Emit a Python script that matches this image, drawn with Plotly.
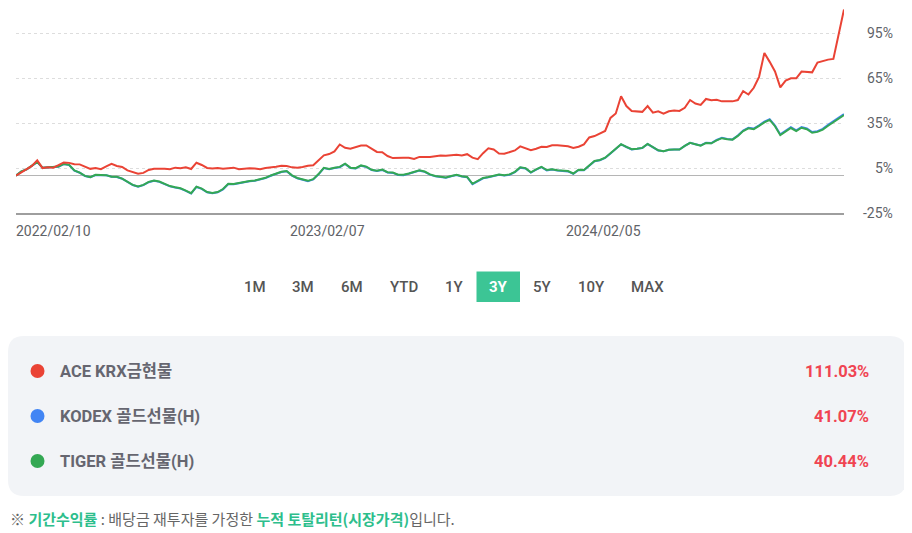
import pandas as pd
import plotly.graph_objects as go

# ---- data (weekly, cumulative total return %) ----
start_date = "2022-02-10"

ace_krx = [
    0, 2.0, 4.0, 6.5, 10.2, 5.0, 5.5, 5.3, 7.0, 8.8,
    8.5, 7.6, 7.5, 5.8, 4.5, 5.0, 4.3, 6.2, 7.8, 6.4,
    5.8, 3.5, 2.2, 1.2, 1.8, 3.8, 4.6, 4.7, 4.6, 4.2,
    5.3, 4.9, 5.6, 4.4, 8.6, 7.1, 5.1, 4.7, 5.1, 4.6,
    5.0, 5.3, 4.3, 4.8, 4.9, 4.7, 4.2, 5.1, 5.4, 5.9,
    6.6, 6.4, 5.5, 5.3, 5.7, 6.6, 6.9, 9.9, 13.5, 14.4,
    16.2, 20.8, 18.6, 18.0, 19.2, 20.1, 20.1, 17.7, 15.8, 15.6,
    13.1, 11.7, 12.0, 12.0, 11.9, 11.1, 12.5, 12.2, 12.4, 12.9,
    13.4, 13.3, 13.5, 14.0, 13.5, 14.3, 12.0, 11.0, 15.0, 18.2,
    17.4, 14.8, 14.6, 15.8, 16.8, 19.5, 18.0, 17.0, 17.9, 19.2,
    19.1, 20.3, 20.2, 20.0, 19.6, 18.4, 19.3, 20.9, 25.5, 26.4,
    28.0, 29.8, 38.5, 41.5, 53.0, 46.5, 43.2, 43.0, 42.6, 46.5,
    42.0, 42.9, 41.4, 43.0, 43.5, 43.2, 45.3, 50.5, 48.2, 47.2,
    51.2, 50.3, 50.7, 49.6, 49.6, 49.6, 50.5, 56.5, 54.2, 58.7,
    66.0, 82.0, 76.0, 69.6, 59.0, 63.5, 65.0, 65.0, 69.5, 69.5,
    69.0, 75.5, 76.6, 77.5, 78.0, 95.0, 111.03,
]

kodex_gold = [
    0, 2.7, 4.1, 6.4, 9.0, 5.2, 5.4, 5.4, 5.9, 7.7,
    7.1, 3.3, 1.9, -0.3, -1.1, 0.4, 0.4, 0.2, -0.8, -0.9,
    -2.1, -4.0, -6.3, -7.5, -6.4, -4.4, -3.5, -4.2, -5.9, -7.2,
    -8.0, -8.7, -10.2, -12.0, -7.6, -8.9, -11.2, -11.8, -11.2, -9.2,
    -5.7, -5.8, -5.1, -4.2, -3.8, -3.5, -2.6, -1.7, -0.1, 1.3,
    2.4, 2.9, 0.0, -1.8, -2.8, -3.7, -2.6, 0.8, 5.0, 4.3,
    5.1, 5.6, 7.8, 5.1, 4.8, 6.6, 5.8, 3.7, 3.1, 3.8,
    2.1, 1.8, 0.4, 0.3, 1.2, 2.0, 3.3, 2.5, 0.6, -0.5,
    -1.1, -1.4, -0.5, 0.3, -0.6, -1.1, -5.7, -3.7, -1.8, -1.2,
    -0.2, 0.5, 0.1, 0.6, 2.3, 5.3, 4.8, 2.0, 4.0, 5.6,
    3.5, 4.1, 3.4, 3.3, 2.8, 1.2, 3.7, 3.6, 6.8, 9.6,
    10.2, 11.8, 14.8, 17.8, 20.9, 19.1, 17.5, 17.9, 18.4, 21.1,
    18.8, 16.8, 16.2, 17.2, 17.5, 17.4, 19.8, 21.9, 21.0, 20.1,
    21.9, 21.7, 23.8, 25.2, 24.5, 24.2, 26.8, 30.1, 32.0, 31.4,
    33.6, 36.0, 37.7, 33.5, 27.5, 29.8, 32.3, 30.3, 32.5, 31.5,
    29.1, 29.7, 31.2, 33.9, 36.2, 38.6, 41.07,
]

tiger_gold = [
    0, 2.8, 4.2, 6.5, 9.2, 5.3, 5.5, 5.5, 6.0, 7.8,
    7.2, 3.4, 2.0, -0.2, -1.0, 0.5, 0.5, 0.3, -0.7, -0.8,
    -2.0, -3.9, -6.2, -7.3, -6.2, -4.2, -3.3, -4.0, -5.7, -7.0,
    -7.8, -8.5, -10.0, -11.8, -7.4, -8.7, -11.0, -11.6, -11.0, -9.0,
    -5.5, -5.6, -4.9, -4.0, -3.6, -3.3, -2.4, -1.5, 0.1, 1.5,
    2.6, 3.1, 0.2, -1.6, -2.6, -3.5, -2.4, 1.0, 5.2, 4.5,
    5.3, 5.8, 8.0, 5.3, 5.0, 6.8, 6.0, 3.9, 3.3, 4.0,
    2.3, 2.0, 0.6, 0.5, 1.4, 2.2, 3.5, 2.7, 0.8, -0.3,
    -0.9, -1.2, -0.3, 0.5, -0.4, -0.9, -5.5, -3.5, -1.6, -1.0,
    0.0, 0.7, 0.3, 0.8, 2.5, 5.5, 5.0, 2.2, 4.2, 5.8,
    3.7, 4.3, 3.6, 3.5, 3.0, 1.4, 3.9, 3.8, 7.0, 9.8,
    10.4, 12.0, 15.0, 18.0, 21.0, 19.2, 17.6, 18.0, 18.5, 21.2,
    18.9, 16.9, 16.3, 17.3, 17.5, 17.4, 19.8, 21.9, 21.0, 20.0,
    21.8, 21.6, 23.6, 25.0, 24.3, 24.0, 26.5, 29.8, 31.6, 31.0,
    33.2, 35.6, 37.2, 33.0, 27.0, 29.3, 31.8, 29.8, 32.0, 31.0,
    28.6, 29.2, 30.7, 33.3, 35.6, 38.0, 40.44,
]

series_names = ["ACE KRX금현물", "KODEX 골드선물(H)", "TIGER 골드선물(H)"]
series_colors = ["#EA4335", "#4285F4", "#34A853"]
total_returns = ["111.03%", "41.07%", "40.44%"]

y_ticks = [-25, 5, 35, 65, 95]
x_tick_dates = ["2022-02-10", "2023-02-07", "2024-02-05"]
periods = ["1M", "3M", "6M", "YTD", "1Y", "3Y", "5Y", "10Y", "MAX"]
selected_period = "3Y"

dates = pd.date_range(start_date, periods=len(ace_krx), freq="7D")

FONT = "Roboto, 'Noto Sans CJK KR', sans-serif"
KFONT = "'Noto Sans CJK KR', Roboto, sans-serif"

# page body has an 8px margin, so the figure is shifted by that much
OFF = 8
W, H = 912 - OFF, 533 - OFF
# plot area in window pixels
L, R, T, B = 16, 844, 8, 213


def px(x):
    return (x - L) / (R - L)


def py(y):
    return (B - y) / (B - T)


fig = go.Figure()

# blue drawn first, green on top (they overlap almost completely)
for name, vals, color in [
    (series_names[1], kodex_gold, series_colors[1]),
    (series_names[2], tiger_gold, series_colors[2]),
    (series_names[0], ace_krx, series_colors[0]),
]:
    fig.add_trace(go.Scatter(
        x=dates, y=vals, mode="lines", name=name,
        line=dict(color=color, width=2), hoverinfo="skip",
    ))

annotations = []

# y tick labels (right-aligned)
for v in y_ticks:
    annotations.append(dict(
        xref="paper", yref="y", x=1, y=v, xshift=51, xanchor="right",
        text=f"{v}%", showarrow=False, font=dict(family=FONT, size=14, color="#5f6368"),
    ))

# x tick labels (left-aligned at tick date)
for d in x_tick_dates:
    annotations.append(dict(
        xref="x", yref="paper", x=d, y=0, yshift=-18, xanchor="left", yanchor="middle",
        xshift=-2, text=d.replace("-", "/"), showarrow=False,
        font=dict(family=FONT, size=14, color="#5f6368"),
    ))

shapes = []

# period buttons
btn_x = [255, 303, 352, 404, 454, 498, 542, 591, 647]
for label, cx in zip(periods, btn_x):
    sel = label == selected_period
    if sel:
        shapes.append(dict(
            type="rect", xref="paper", yref="paper",
            x0=px(476.5), x1=px(520), y0=py(302), y1=py(271.5),
            fillcolor="#3CC595", line=dict(width=0), layer="below",
        ))
    annotations.append(dict(
        xref="paper", yref="paper", x=px(cx), y=py(287), xanchor="center", yanchor="middle",
        text=f"<b>{label}</b>" if sel else label, showarrow=False,
        font=dict(family=FONT, size=15, color="white" if sel else "#555555", weight=500),
    ))

# legend panel (rounded rect)
x0, x1, y0, y1 = px(8), px(906), py(496), py(336)
rx, ry = 16 / (R - L), 16 / (B - T)
panel_path = (
    f"M {x0 + rx},{y0} L {x1 - rx},{y0} Q {x1},{y0} {x1},{y0 + ry} "
    f"L {x1},{y1 - ry} Q {x1},{y1} {x1 - rx},{y1} "
    f"L {x0 + rx},{y1} Q {x0},{y1} {x0},{y1 - ry} "
    f"L {x0},{y0 + ry} Q {x0},{y0} {x0 + rx},{y0} Z"
)
shapes.append(dict(type="path", xref="paper", yref="paper", path=panel_path,
                   fillcolor="#F2F4F7", line=dict(width=0), layer="below"))

row_y = [371, 416, 461]
for name, color, ret, ry_ in zip(series_names, series_colors, total_returns, row_y):
    shapes.append(dict(
        type="circle", xref="paper", yref="paper",
        x0=px(30.5), x1=px(44.5), y0=py(ry_ + 7), y1=py(ry_ - 7),
        fillcolor=color, line=dict(width=0),
    ))
    annotations.append(dict(
        xref="paper", yref="paper", x=px(58), y=py(ry_), xanchor="left", yanchor="middle",
        text=name, showarrow=False,
        font=dict(family=FONT, size=16.5, color="#666670", weight=700),
    ))
    annotations.append(dict(
        xref="paper", yref="paper", x=px(871), y=py(ry_), xanchor="right", yanchor="middle",
        text=ret, showarrow=False,
        font=dict(family=FONT, size=16.5, color="#F04452", weight=700),
    ))

# footnote
green = "#2DBE8C"
note = (
    f"※ <span style='color:{green}'><b>기간수익률</b></span> : 배당금 재투자를 가정한 "
    f"<span style='color:{green}'><b>누적 토탈리턴(시장가격)</b></span>입니다."
)
annotations.append(dict(
    xref="paper", yref="paper", x=px(8), y=py(518.5), xanchor="left", yanchor="middle",
    text=note, showarrow=False, font=dict(family=KFONT, size=15, color="#666666"),
))

fig.update_layout(
    width=W, height=H, autosize=False,
    margin=dict(l=L - OFF, r=W - (R - OFF), t=T - OFF, b=H - (B - OFF)),
    paper_bgcolor="white", plot_bgcolor="white",
    showlegend=False,
    xaxis=dict(
        range=[dates[0], dates[-1]], showticklabels=False, showgrid=False,
        showline=True, linecolor="#9e9e9e", linewidth=2, ticks="", zeroline=False,
    ),
    yaxis=dict(
        range=[-25, 112], tickvals=y_ticks, showticklabels=False,
        showgrid=True, gridcolor="#dddddd", griddash="dot", gridwidth=1,
        zeroline=True, zerolinecolor="#b5b5b5", zerolinewidth=1,
    ),
    annotations=annotations,
    shapes=shapes,
)

fig.write_html("out.html")
